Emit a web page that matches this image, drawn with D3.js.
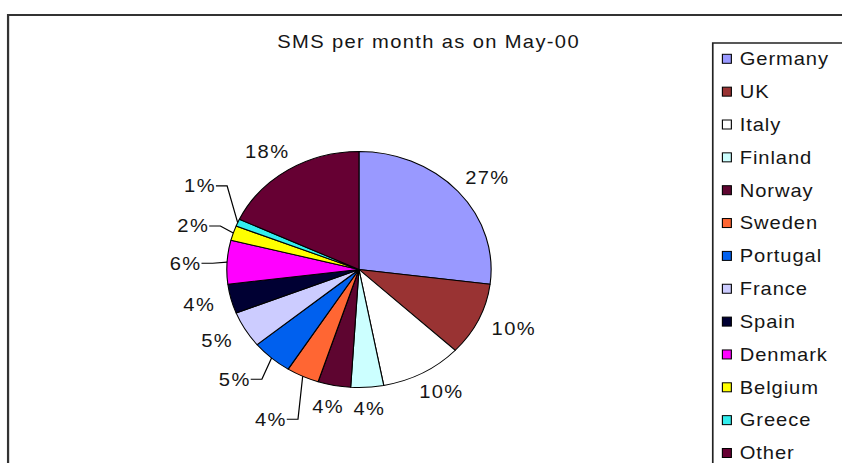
<!DOCTYPE html>
<html>
<head>
<meta charset="utf-8">
<script src="https://cdn.jsdelivr.net/npm/d3@7"></script>
<style>
  html, body { margin: 0; padding: 0; background: #fff; }
  svg { display: block; }
  text { font-family: "Liberation Sans", Arial, sans-serif; fill: #151515; }
</style>
</head>
<body>
<svg id="chart"></svg>
<script>
// SMS traffic share per country, May 2000
const countries = ["Germany", "UK", "Italy", "Finland", "Norway", "Sweden", "Portugal",
                   "France", "Spain", "Denmark", "Belgium", "Greece", "Other"];
const shares = [27, 10, 10, 4, 4, 4, 5, 5, 4, 6, 2, 1, 18];
const colors = ["#9999FF", "#993333", "#FFFFFF", "#CCFFFF", "#5E0530", "#FF6633", "#0060EE",
                "#CCCCFF", "#000033", "#FF00FF", "#FFFF00", "#33EEEE", "#660033"];
const title = "SMS per month as on May-00";

// Crowded slices get their label pulled out and joined by a leader line:
// [angle of label centre in degrees clockwise from 12 o'clock, distance in pie radii]
const leaderPlacement = {
  Sweden:   [207.7, 1.434],
  Portugal: [225.3, 1.322],
  Denmark:  [272.3, 1.313],
  Belgium:  [286.4, 1.307],
  Greece:   [300.5, 1.396]
};

const W = 842, H = 463;
const sx = 1.12;                 // the whole drawing is set slightly wide
const VW = W / sx;

const svg = d3.select("#chart")
  .attr("width", W).attr("height", H)
  .attr("viewBox", `0 0 ${VW} ${H}`)
  .attr("preserveAspectRatio", "none");

// chart area frame
svg.append("rect")
  .attr("x", 7.2).attr("y", 15)
  .attr("width", VW + 20).attr("height", H + 20)
  .attr("fill", "#fff").attr("stroke", "#333").attr("stroke-width", 2);

// title
svg.append("text")
  .attr("x", 382.7).attr("y", 48)
  .attr("text-anchor", "middle")
  .style("font-size", "18px").style("letter-spacing", "1.2px")
  .text(title);

// pie
const cx = 320.5, cy = 269.5, R = 118;
const pie = d3.pie().sort(null).value(d => d.v);
const data = countries.map((c, i) => ({ c, v: shares[i], col: colors[i] }));
const arcs = pie(data);
const arc = d3.arc().innerRadius(0).outerRadius(R);

const g = svg.append("g").attr("transform", `translate(${cx},${cy})`);
g.selectAll("path.slice").data(arcs).enter().append("path")
  .attr("class", "slice")
  .attr("d", arc)
  .attr("fill", d => d.data.col)
  .attr("stroke", "#000").attr("stroke-width", 1).attr("stroke-linejoin", "round");

// percentage labels
const capH = 13, gap = 15;
arcs.forEach(d => {
  const a = (d.startAngle + d.endAngle) / 2;
  const ux = Math.sin(a), uy = -Math.cos(a);
  const t = g.append("text")
    .attr("text-anchor", "middle")
    .style("font-size", "18px").style("letter-spacing", "1.2px")
    .text(d.data.v + "%");
  const w = t.node().getComputedTextLength();
  const lp = leaderPlacement[d.data.c];
  let lx, ly;
  if (lp) {
    const la = lp[0] * Math.PI / 180;
    lx = Math.sin(la) * R * lp[1];
    ly = -Math.cos(la) * R * lp[1];
    // leader: out of the label's right side, then to the slice's outer edge
    const ex = ux * R, ey = uy * R;
    const startX = lx + w / 2;
    const elbowX = Math.min(startX + 10, ex);
    g.append("polyline")
      .attr("points", [[startX, ly], [elbowX, ly], [ex, ey]].map(p => p.join(",")).join(" "))
      .attr("fill", "none").attr("stroke", "#000").attr("stroke-width", 1.1);
  } else {
    lx = (R + gap) * ux + ux * w / 2;
    ly = (R + gap) * uy + uy * capH / 2;
  }
  t.attr("x", lx).attr("y", ly + capH / 2);
});

// legend
const legend = svg.append("g");
legend.append("rect")
  .attr("x", 636.4).attr("y", 43)
  .attr("width", VW).attr("height", H)
  .attr("fill", "#fff").attr("stroke", "#222").attr("stroke-width", 1.5);

const step = 32.85, y0 = 58.8;
const items = legend.selectAll("g.item").data(data).enter().append("g")
  .attr("class", "item")
  .attr("transform", (d, i) => `translate(0,${y0 + i * step})`);
items.append("rect")
  .attr("x", 645).attr("y", -4.5)
  .attr("width", 8).attr("height", 9)
  .attr("fill", d => d.col).attr("stroke", "#000").attr("stroke-width", 1);
items.append("text")
  .attr("x", 660.5).attr("y", 6.3)
  .style("font-size", "18px").style("letter-spacing", "0.8px")
  .text(d => d.c);
</script>
</body>
</html>
